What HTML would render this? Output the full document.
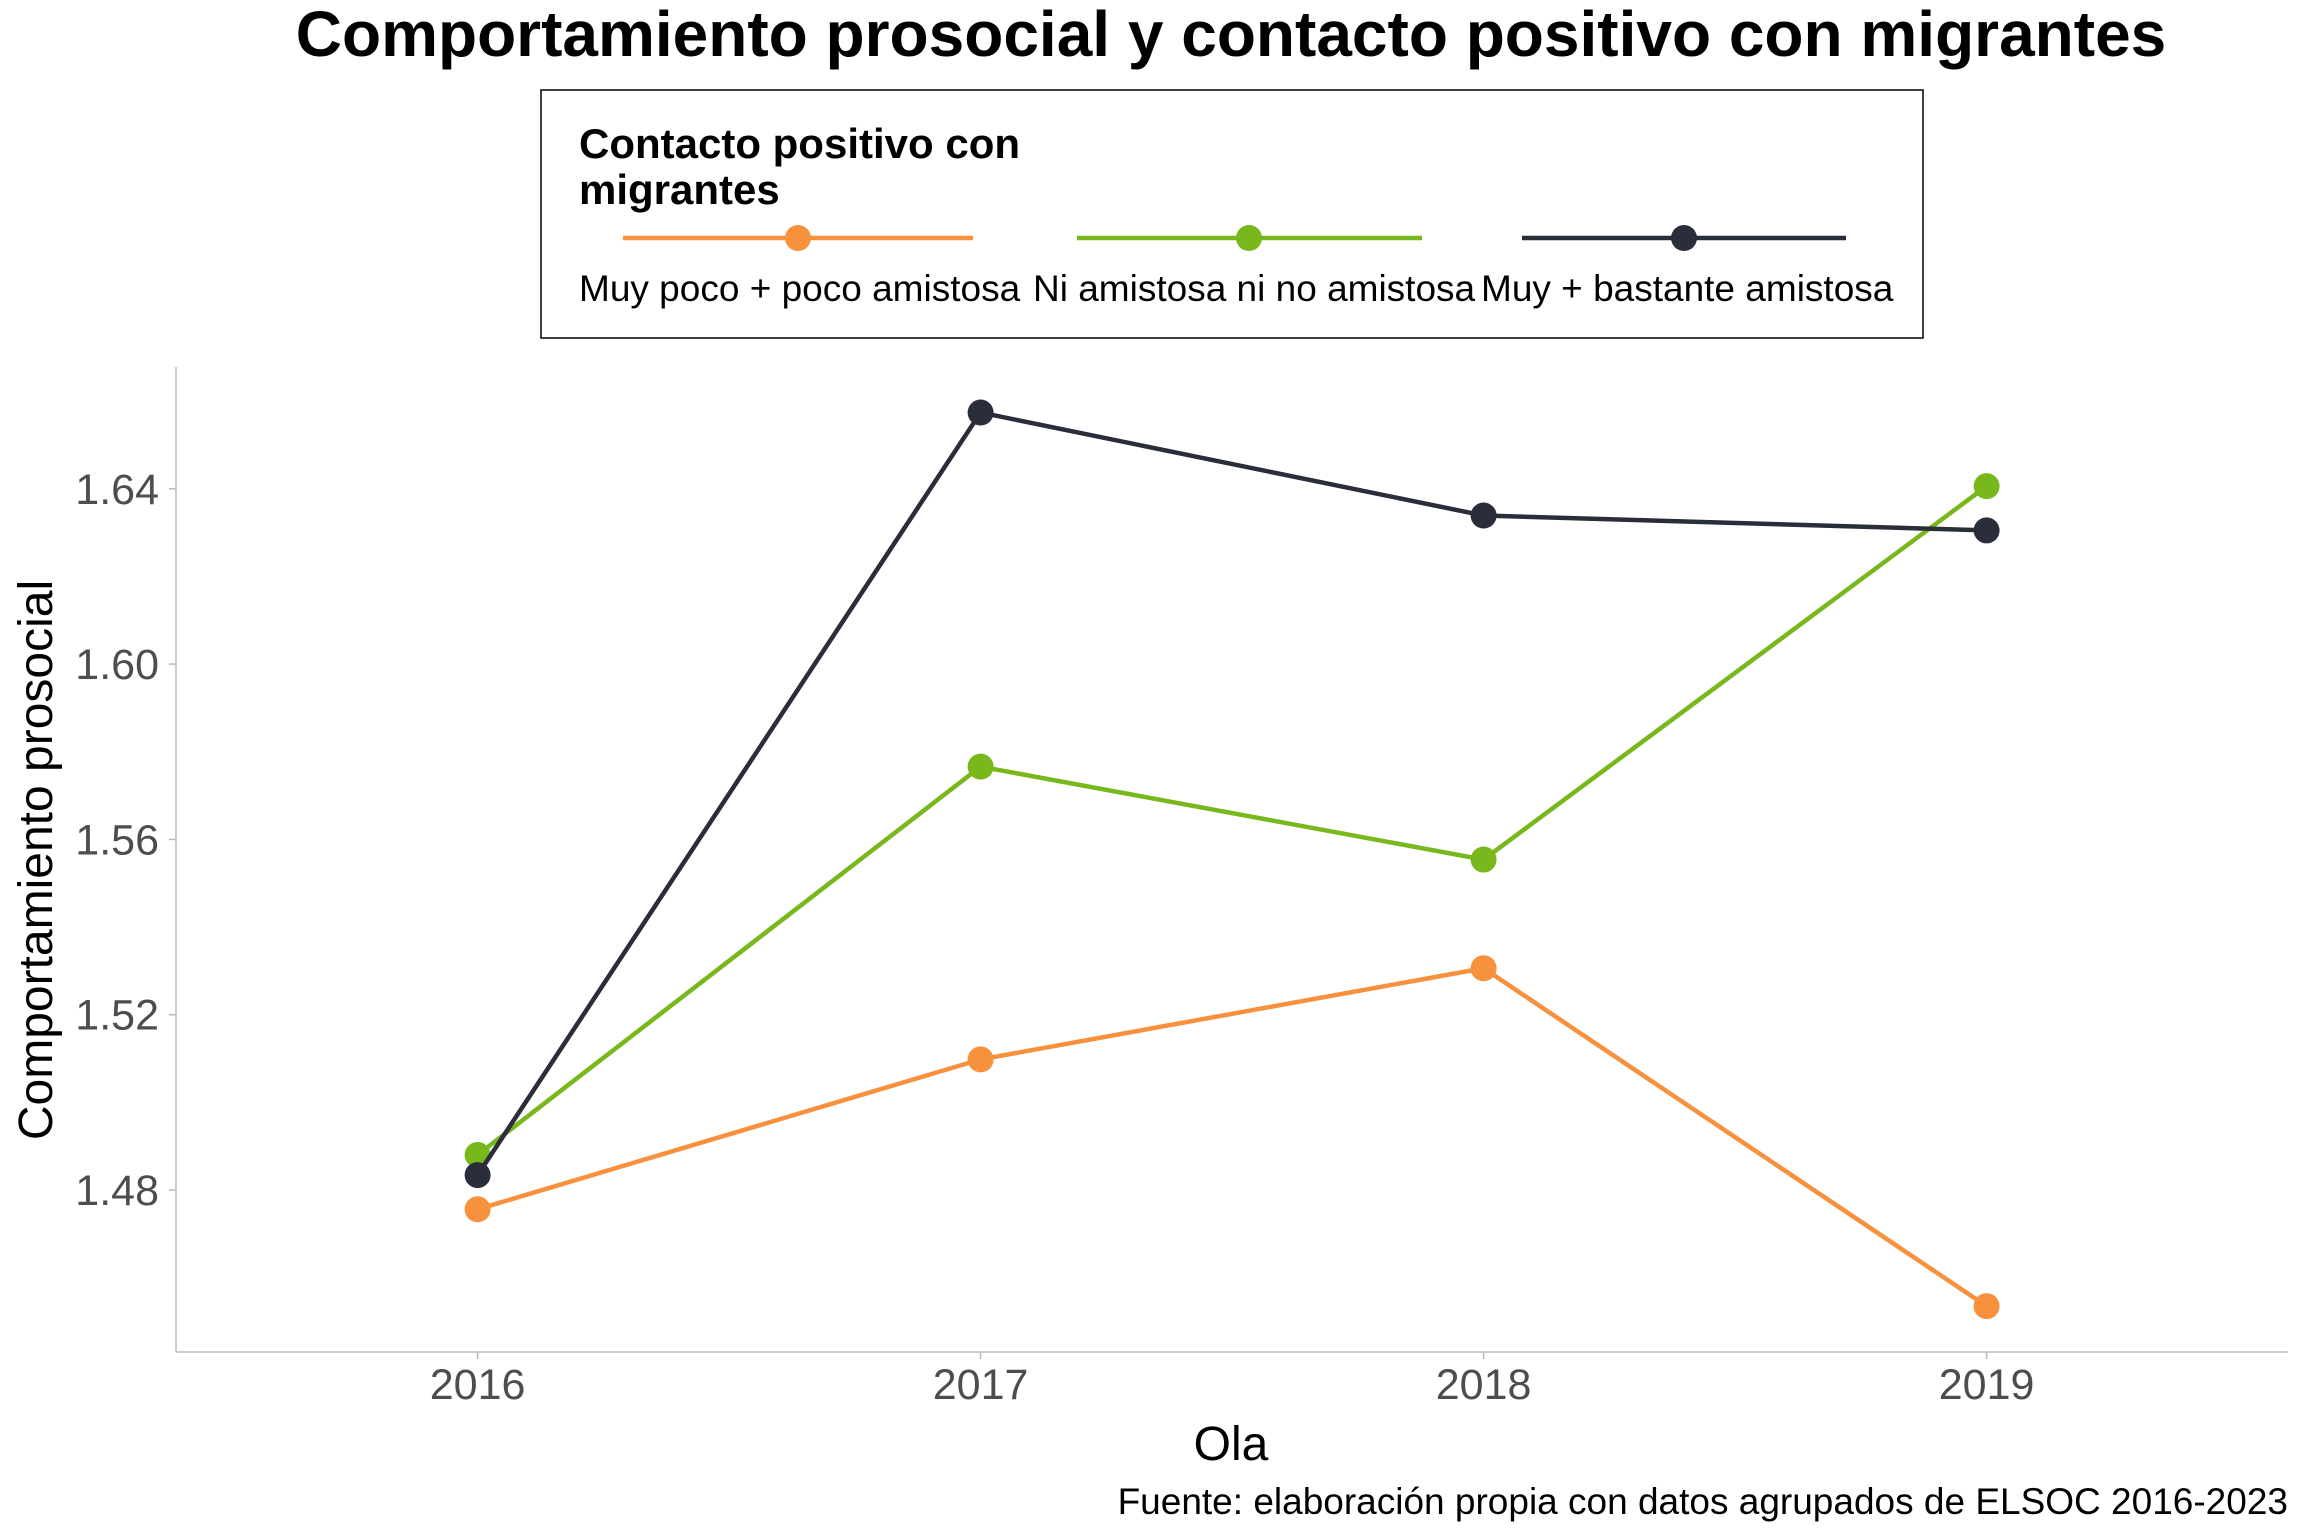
<!DOCTYPE html>
<html><head><meta charset="utf-8"><style>
html,body{margin:0;padding:0;background:#fff;}
svg{display:block;font-family:"Liberation Sans",Arial,sans-serif;}
</style></head><body>
<svg id="chart" width="2304" height="1536" viewBox="0 0 2304 1536" xmlns="http://www.w3.org/2000/svg">
<rect width="2304" height="1536" fill="#fff"/>
<text x="1231" y="56" text-anchor="middle" font-size="64" font-weight="bold" fill="#000">Comportamiento prosocial y contacto positivo con migrantes</text>
<g>
<rect x="541" y="90" width="1382" height="248" fill="#fff" stroke="#000" stroke-width="1.5"/>
<text x="579" y="158" font-size="42" font-weight="bold" fill="#000">Contacto positivo con</text>
<text x="579" y="204" font-size="42" font-weight="bold" fill="#000">migrantes</text>
<g id="legend-entries"></g>
</g>
<g id="axes"></g>
<g id="plot"></g>
<text x="1231" y="1460" text-anchor="middle" font-size="48" fill="#000">Ola</text>
<text transform="translate(52,860) rotate(-90)" text-anchor="middle" font-size="48" fill="#000">Comportamiento prosocial</text>
<text x="2288" y="1514" text-anchor="end" font-size="37" fill="#000">Fuente: elaboración propia con datos agrupados de ELSOC 2016-2023</text>
</svg>
<script>
const categories = ["2016","2017","2018","2019"];
const yTicks = [1.48,1.52,1.56,1.60,1.64];
const yTickLabels = ["1.48","1.52","1.56","1.60","1.64"];
const seriesNames = ["Muy poco + poco amistosa","Ni amistosa ni no amistosa","Muy + bastante amistosa"];
const seriesColors = ["#f7913d","#78b81c","#2a2d3a"];
const valuesLow = [1.4756,1.5098,1.5306,1.4535];
const valuesMid = [1.4880,1.5766,1.5554,1.6406];
const valuesHigh = [1.4834,1.6574,1.6339,1.6305];
const allSeries = [valuesLow, valuesMid, valuesHigh];

const NS="http://www.w3.org/2000/svg";
const L=176,R=2288,T=367,B=1352;
function xScale(i){return 477.6 + i*503;}
function yScale(v){return 1190 - (v-1.48)/0.04*175.3;}
function mk(tag,attrs,parent){const e=document.createElementNS(NS,tag);for(const k in attrs)e.setAttribute(k,attrs[k]);parent.appendChild(e);return e;}

const axes=document.getElementById('axes');
let yl=mk('line',{x1:L,y1:T,x2:L,y2:B,stroke:'#bbb','stroke-width':1.5},axes);


let xl=mk('line',{x1:L,y1:B,x2:R,y2:B,stroke:'#bbb','stroke-width':1.5},axes);


yTicks.forEach((v,i)=>{
  const y=yScale(v);
  const tk=mk('line',{x1:L-7,y1:y,x2:L,y2:y,stroke:'#bbb','stroke-width':1.5},axes);
  
  
  const t=mk('text',{x:159,y:y+15,'text-anchor':'end','font-size':43,fill:'#4d4d4d'},axes);
  
  
  t.textContent=yTickLabels[i];
});
categories.forEach((c,i)=>{
  const x=xScale(i);
  const tk=mk('line',{x1:x,y1:B,x2:x,y2:B+7,stroke:'#bbb','stroke-width':1.5},axes);
  
  
  const t=mk('text',{x:x,y:1399,'text-anchor':'middle','font-size':43,fill:'#4d4d4d'},axes);
  
  
  t.textContent=c;
});

const plot=document.getElementById('plot');
allSeries.forEach((vals,s)=>{
  const g=mk('g',{},plot);
  
  
  const pts=vals.map((v,i)=>xScale(i)+','+yScale(v)).join(' ');
  const pl=mk('polyline',{points:pts,fill:'none',stroke:seriesColors[s],'stroke-width':4.5},g);
  
  
  vals.forEach((v,i)=>{
    const c=mk('circle',{cx:xScale(i),cy:yScale(v),r:13,fill:seriesColors[s]},g);
    
    
  });
});

const le=document.getElementById('legend-entries');
const legX=[[623,973,798,579],[1077,1422,1249,1033],[1522,1846,1684,1481]];
seriesNames.forEach((n,s)=>{
  const p=legX[s];
  const g=mk('g',{},le);
  
  
  mk('line',{x1:p[0],y1:238,x2:p[1],y2:238,stroke:seriesColors[s],'stroke-width':4.5},g);
  mk('circle',{cx:p[2],cy:238,r:13,fill:seriesColors[s]},g);
  const t=mk('text',{x:p[3],y:301,'font-size':37,fill:'#000'},g);
  
  
  t.textContent=n;
});
</script>
</body></html>
